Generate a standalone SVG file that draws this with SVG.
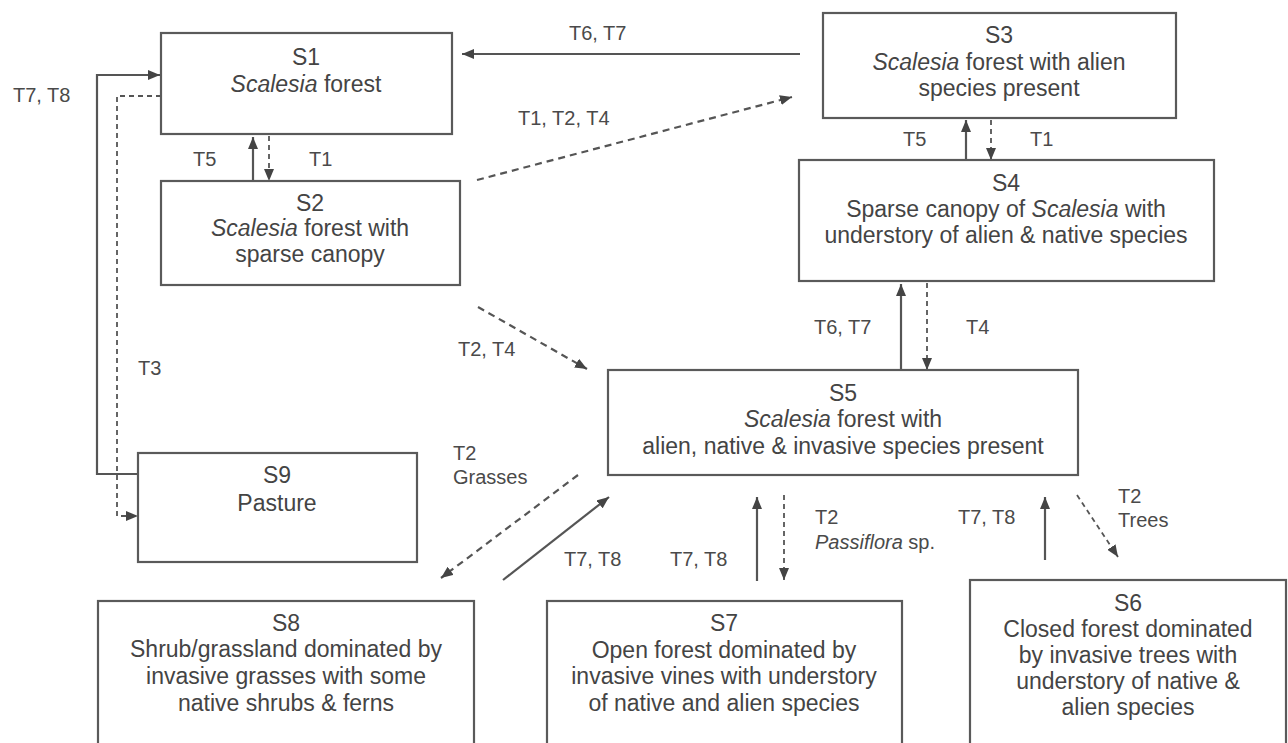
<svg xmlns="http://www.w3.org/2000/svg" width="1288" height="743" viewBox="0 0 1288 743">
<defs>
<style>
.box{fill:#fff;stroke:#5a5a5a;stroke-width:2.2}
.t{font-family:"Liberation Sans",Arial,sans-serif;font-size:23px;fill:#444;text-anchor:middle}
.l{font-family:"Liberation Sans",Arial,sans-serif;font-size:20px;fill:#4a4a4a}
.s{fill:none;stroke:#555;stroke-width:2.2}
.d{fill:none;stroke:#555;stroke-width:2.2;stroke-dasharray:7 5}
.ds{fill:none;stroke:#555;stroke-width:1.8;stroke-dasharray:5 4}
</style>
<marker id="ah" viewBox="0 0 12 10" refX="12" refY="5" markerWidth="12" markerHeight="10" markerUnits="userSpaceOnUse" orient="auto">
<path d="M0,0 L12,5 L0,10 Z" fill="#444"/>
</marker>
</defs>
<rect width="1288" height="743" fill="#fff"/>

<g id="connectors">
<line class="s" x1="800" y1="54" x2="462" y2="54" marker-end="url(#ah)"/>
<line class="d" x1="477" y1="180" x2="792" y2="97" marker-end="url(#ah)"/>
<line class="s" x1="253" y1="181" x2="253" y2="137" marker-end="url(#ah)"/>
<line class="ds" x1="269" y1="136" x2="269" y2="181" marker-end="url(#ah)"/>
<path class="s" d="M138,474 H97 V75 H160" marker-end="url(#ah)"/>
<path class="ds" d="M161,96 H117 V516 H138" marker-end="url(#ah)"/>
<line class="d" x1="478" y1="307" x2="587" y2="369" marker-end="url(#ah)"/>
<line class="s" x1="901" y1="370" x2="901" y2="284" marker-end="url(#ah)"/>
<line class="ds" x1="927" y1="283" x2="927" y2="370" marker-end="url(#ah)"/>
<line class="s" x1="966" y1="160" x2="966" y2="120" marker-end="url(#ah)"/>
<line class="ds" x1="991" y1="120" x2="991" y2="160" marker-end="url(#ah)"/>
<line class="d" x1="578" y1="475" x2="441" y2="578" marker-end="url(#ah)"/>
<line class="s" x1="503" y1="580" x2="609" y2="497" marker-end="url(#ah)"/>
<line class="s" x1="757" y1="581" x2="757" y2="497" marker-end="url(#ah)"/>
<line class="ds" x1="784" y1="495" x2="784" y2="580" marker-end="url(#ah)"/>
<line class="s" x1="1045" y1="560" x2="1045" y2="497" marker-end="url(#ah)"/>
<line class="ds" x1="1077" y1="495" x2="1118" y2="557" marker-end="url(#ah)"/>
</g>

<g id="labels">
<text class="l" x="569" y="40">T6, T7</text>
<text class="l" x="518" y="125">T1, T2, T4</text>
<text class="l" x="13" y="102">T7, T8</text>
<text class="l" x="193" y="166">T5</text>
<text class="l" x="309" y="166">T1</text>
<text class="l" x="138" y="375">T3</text>
<text class="l" x="458" y="356">T2, T4</text>
<text class="l" x="903" y="146">T5</text>
<text class="l" x="1030" y="146">T1</text>
<text class="l" x="814" y="334">T6, T7</text>
<text class="l" x="966" y="334">T4</text>
<text class="l" x="453" y="460">T2</text>
<text class="l" x="453" y="484">Grasses</text>
<text class="l" x="564" y="566">T7, T8</text>
<text class="l" x="670" y="566">T7, T8</text>
<text class="l" x="815" y="524">T2</text>
<text class="l" x="815" y="549"><tspan font-style="italic">Passiflora</tspan> sp.</text>
<text class="l" x="958" y="524">T7, T8</text>
<text class="l" x="1118" y="503">T2</text>
<text class="l" x="1118" y="527">Trees</text>
</g>

<g id="S1">
<rect class="box" x="161" y="33" width="291" height="101"/>
<text class="t" x="306" y="65">S1</text>
<text class="t" x="306" y="92"><tspan font-style="italic">Scalesia</tspan> forest</text>
</g>
<g id="S2">
<rect class="box" x="161" y="181" width="299" height="104"/>
<text class="t" x="310" y="211">S2</text>
<text class="t" x="310" y="236"><tspan font-style="italic">Scalesia</tspan> forest with</text>
<text class="t" x="310" y="262">sparse canopy</text>
</g>
<g id="S3">
<rect class="box" x="823" y="13" width="353" height="105"/>
<text class="t" x="999" y="43">S3</text>
<text class="t" x="999" y="70"><tspan font-style="italic">Scalesia</tspan> forest with alien</text>
<text class="t" x="999" y="96">species present</text>
</g>
<g id="S4">
<rect class="box" x="799" y="160" width="415" height="121"/>
<text class="t" x="1006" y="191">S4</text>
<text class="t" x="1006" y="217">Sparse canopy of <tspan font-style="italic">Scalesia</tspan> with</text>
<text class="t" x="1006" y="243">understory of alien &amp; native species</text>
</g>
<g id="S5">
<rect class="box" x="608" y="370" width="470" height="105"/>
<text class="t" x="843" y="401">S5</text>
<text class="t" x="843" y="427"><tspan font-style="italic">Scalesia</tspan> forest with</text>
<text class="t" x="843" y="454">alien, native &amp; invasive species present</text>
</g>
<g id="S6">
<rect class="box" x="970" y="580" width="316" height="190"/>
<text class="t" x="1128" y="611">S6</text>
<text class="t" x="1128" y="637">Closed forest dominated</text>
<text class="t" x="1128" y="663">by invasive trees with</text>
<text class="t" x="1128" y="689">understory of native &amp;</text>
<text class="t" x="1128" y="715">alien species</text>
</g>
<g id="S7">
<rect class="box" x="547" y="601" width="355" height="170"/>
<text class="t" x="724" y="631">S7</text>
<text class="t" x="724" y="658">Open forest dominated by</text>
<text class="t" x="724" y="684">invasive vines with understory</text>
<text class="t" x="724" y="711">of native and alien species</text>
</g>
<g id="S8">
<rect class="box" x="98" y="601" width="376" height="170"/>
<text class="t" x="286" y="631">S8</text>
<text class="t" x="286" y="657">Shrub/grassland dominated by</text>
<text class="t" x="286" y="684">invasive grasses with some</text>
<text class="t" x="286" y="711">native shrubs &amp; ferns</text>
</g>
<g id="S9">
<rect class="box" x="138" y="453" width="279" height="109"/>
<text class="t" x="277" y="483">S9</text>
<text class="t" x="277" y="511">Pasture</text>
</g>
</svg>
